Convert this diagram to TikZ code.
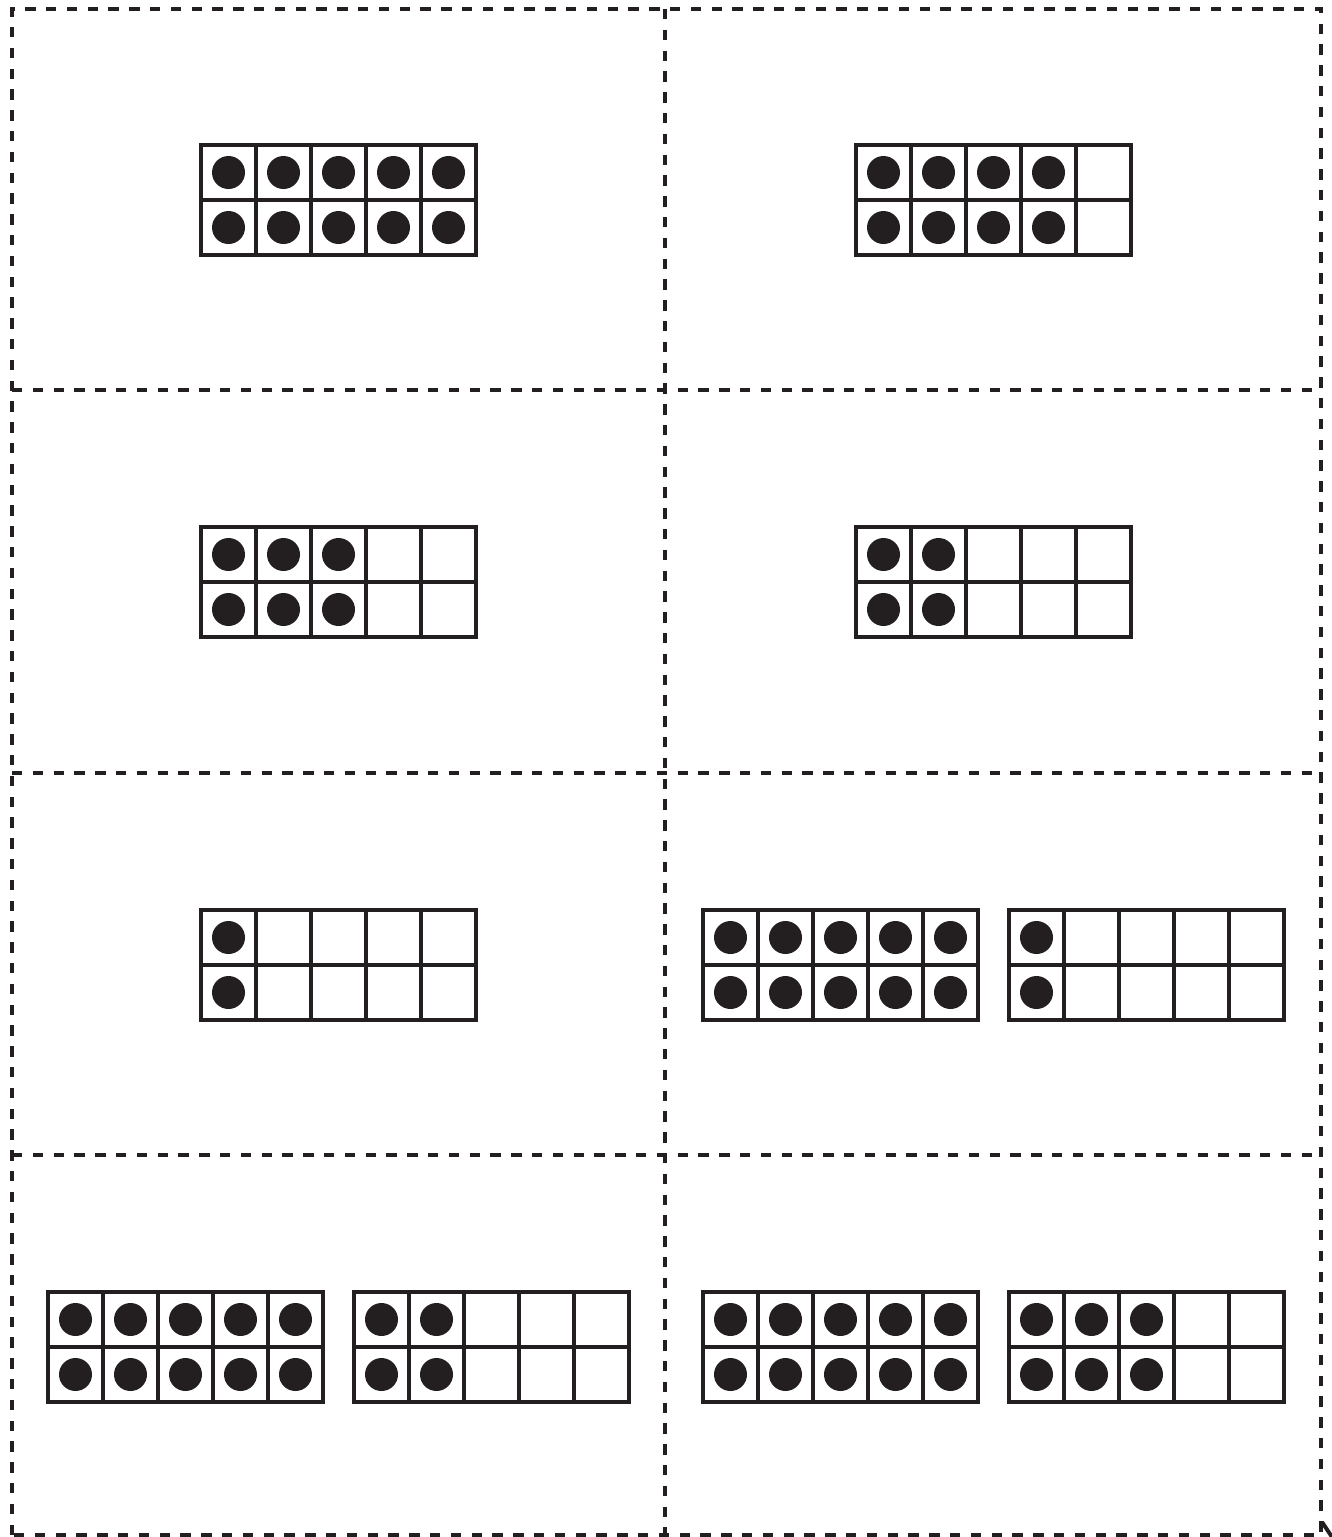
\documentclass[tikz,border=0pt]{standalone}
\usetikzlibrary{calc}
\definecolor{Ink}{HTML}{231F20}
\definecolor{Paper}{HTML}{FFFFFF}
\tikzset{
  cutline/.style={draw=Ink, line width=2.2pt, dash pattern=on 5.2pt off 5.2pt},
  framebox/.style={draw=Ink, line width=2.4pt, fill=Paper},
  counter/.style={fill=Ink, draw=none},
  pics/tenframe/.style={code={
    \draw[framebox] (0,0) rectangle (275,110);
    \foreach \i in {1,...,4} \draw[framebox] (\i*55,0) -- (\i*55,110);
    \draw[framebox] (0,55) -- (275,55);
    \foreach \i in {1,...,#1} {
      \fill[counter] ({(\i-0.5)*55},27.5) circle[radius=8.25pt];
      \fill[counter] ({(\i-0.5)*55},82.5) circle[radius=8.25pt];
    }
  }}
}
\begin{document}
\begin{tikzpicture}[x=0.5pt,y=-0.5pt]
  \useasboundingbox[fill=Paper] (0,0) rectangle (1332,1537);
  % cut lines
  \draw[cutline] (12,1535) -- (12,9) -- (1321,9) -- (1321,1535) -- cycle;
  \draw[cutline] (665,9) -- (665,1535);
  \foreach \y in {390,773,1155} \draw[cutline] (12,\y) -- (1321,\y);
  \draw[Ink, line width=2pt] (1322,1522) -- (1332,1537);
  % ten frames
  \pic (f10) at (201,145) {tenframe=5};
  \pic (f8)  at (856,145) {tenframe=4};
  \pic (f6)  at (201,527) {tenframe=3};
  \pic (f4)  at (856,527) {tenframe=2};
  \pic (f2)  at (201,910) {tenframe=1};
  \pic (f12a) at (703,910) {tenframe=5};
  \pic (f12b) at (1009,910) {tenframe=1};
  \pic (f14a) at (48,1292) {tenframe=5};
  \pic (f14b) at (354,1292) {tenframe=2};
  \pic (f16a) at (703,1292) {tenframe=5};
  \pic (f16b) at (1009,1292) {tenframe=3};
\end{tikzpicture}
\end{document}
